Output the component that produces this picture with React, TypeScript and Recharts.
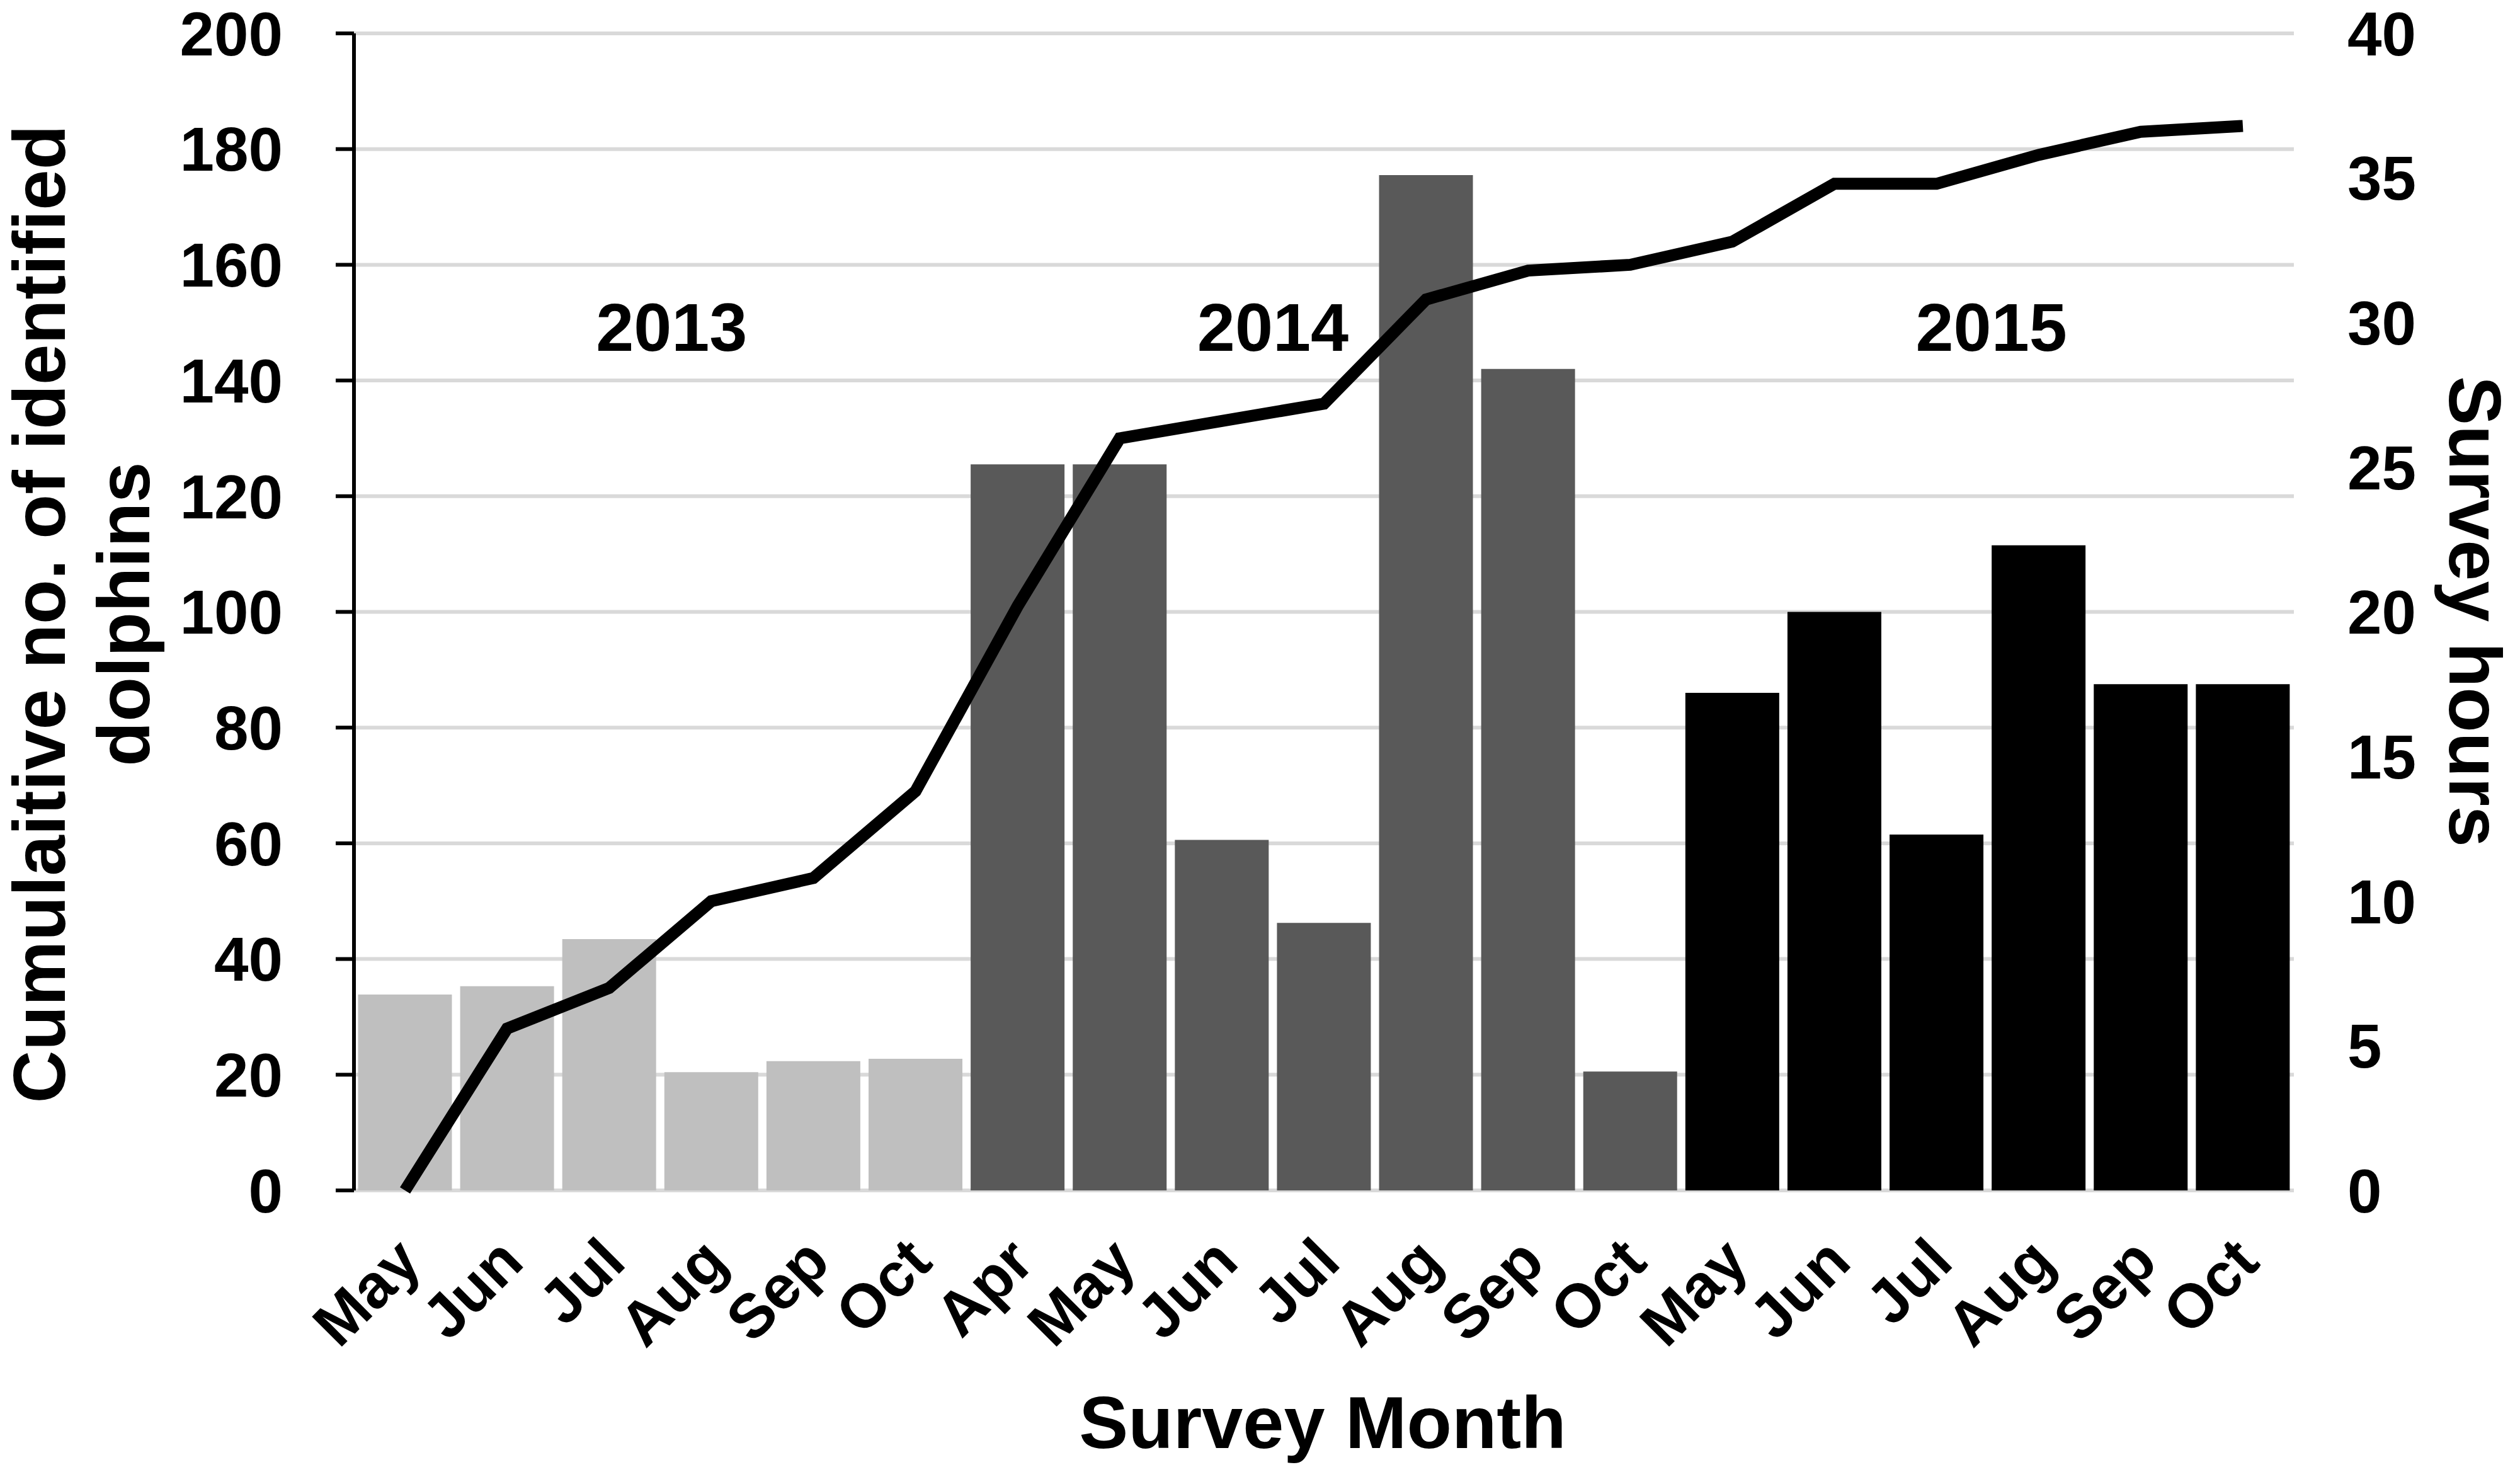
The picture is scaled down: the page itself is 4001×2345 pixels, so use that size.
import React from 'react';
import {
  ComposedChart,
  Bar,
  Line,
  XAxis,
  YAxis,
  CartesianGrid,
  Cell,
  ReferenceArea,
} from 'recharts';

// survey months, grouped by season
const months = ['May', 'Jun', 'Jul', 'Aug', 'Sep', 'Oct', 'Apr', 'May', 'Jun', 'Jul', 'Aug', 'Sep', 'Oct', 'May', 'Jun', 'Jul', 'Aug', 'Sep', 'Oct'];
const years = ['2013', '2013', '2013', '2013', '2013', '2013', '2014', '2014', '2014', '2014', '2014', '2014', '2014', '2015', '2015', '2015', '2015', '2015', '2015'];

// bars: survey hours per month (right axis)
const surveyHours = [6.77, 7.06, 8.69, 4.09, 4.47, 4.55, 25.1, 25.1, 12.12, 9.25, 35.1, 28.4, 4.11, 17.2, 20.0, 12.3, 22.3, 17.5, 17.5];
// line: cumulative no. of identified dolphins (left axis)
const cumulativeDolphins = [0, 28, 35, 50, 54, 69, 101, 130, 133, 136, 154, 159, 160, 164, 174, 174, 179, 183, 184];

const leftTicks = [0, 20, 40, 60, 80, 100, 120, 140, 160, 180, 200];
const rightTicks = [0, 5, 10, 15, 20, 25, 30, 35, 40];

// where the year captions sit (between two months, at a left-axis value)
const yearLabels = [
  { year: '2013', from: '2013-Jul', to: '2013-Aug', dx: 18 },
  { year: '2014', from: '2014-Jun', to: '2014-Jul', dx: 0 },
  { year: '2015', from: '2015-Jul', to: '2015-Aug', dx: 6 },
];
const yearLabelLevel = 149.3;

const yearColors: Record<string, string> = {
  '2013': '#bfbfbf',
  '2014': '#595959',
  '2015': '#000000',
};

const data = months.map((m, i) => ({
  key: `${years[i]}-${m}`,
  month: m,
  year: years[i],
  hours: surveyHours[i],
  cumulative: cumulativeDolphins[i],
}));

const FONT = "'Liberation Sans', Arial, Helvetica, sans-serif";

const MonthTick = ({ x, y, payload }: any) => {
  const label = String(payload.value).split('-')[1];
  const ax = x + 30;
  const ay = y + 118;
  return (
    <text
      x={ax}
      y={ay}
      transform={`rotate(-45, ${ax}, ${ay})`}
      textAnchor="end"
      fontSize={98}
      fontWeight="bold"
      fill="#000"
    >
      {label}
    </text>
  );
};

const titleStyle: React.CSSProperties = {
  position: 'absolute',
  fontFamily: FONT,
  fontWeight: 'bold',
  color: '#000',
  whiteSpace: 'nowrap',
  textAlign: 'center',
};

export default function App() {
  return (
    <div style={{ position: 'absolute', left: 0, top: 0, width: 4001, height: 2345, background: '#fff', fontFamily: FONT }}>
      <ComposedChart
        width={4001}
        height={2345}
        data={data}
        margin={{ top: 53, right: 0, bottom: 0, left: 0 }}
        barCategoryGap="4%"
      >
        <CartesianGrid yAxisId="left" vertical={false} stroke="#d9d9d9" strokeWidth={6} />
        <XAxis
          dataKey="key"
          interval={0}
          axisLine={false}
          tickLine={false}
          tickSize={0}
          tickMargin={0}
          height={455}
          tick={<MonthTick />}
        />
        <YAxis
          yAxisId="left"
          orientation="left"
          width={562}
          domain={[0, 200]}
          ticks={leftTicks}
          interval={0}
          axisLine={{ stroke: '#000', strokeWidth: 6 }}
          tickLine={{ stroke: '#000', strokeWidth: 6 }}
          tickSize={29}
          tickMargin={84}
          tick={{ fontSize: 98, fontWeight: 'bold', fill: '#000' }}
        />
        <YAxis
          yAxisId="right"
          orientation="right"
          width={359}
          domain={[0, 40]}
          ticks={rightTicks}
          interval={0}
          axisLine={false}
          tickLine={false}
          tickSize={0}
          tickMargin={85}
          tick={{ fontSize: 98, fontWeight: 'bold', fill: '#000' }}
        />
        <Bar dataKey="hours" yAxisId="right" isAnimationActive={false}>
          {data.map((d, i) => (
            <Cell key={`cell-${i}`} fill={yearColors[d.year]} />
          ))}
        </Bar>
        <Line
          dataKey="cumulative"
          yAxisId="left"
          type="linear"
          stroke="#000"
          strokeWidth={19}
          dot={false}
          activeDot={false}
          isAnimationActive={false}
        />
        {yearLabels.map((yl) => (
          <ReferenceArea
            key={yl.year}
            yAxisId="left"
            x1={yl.from}
            x2={yl.to}
            y1={yearLabelLevel - 4}
            y2={yearLabelLevel + 4}
            fill="none"
            fillOpacity={0}
            stroke="none"
            label={{ value: yl.year, position: 'center', dx: yl.dx, fontSize: 108, fontWeight: 'bold', fill: '#000' }}
          />
        ))}
      </ComposedChart>

      {/* left axis title, two lines */}
      <div
        style={{
          ...titleStyle,
          left: 130,
          top: 975,
          fontSize: 116,
          lineHeight: '134px',
          transform: 'translate(-50%, -50%) rotate(-90deg)',
        }}
      >
        Cumulaitive no. of identified
        <br />
        dolphins
      </div>

      {/* right axis title */}
      <div
        style={{
          ...titleStyle,
          left: 3929,
          top: 971,
          fontSize: 117,
          lineHeight: '117px',
          transform: 'translate(-50%, -50%) rotate(90deg)',
        }}
      >
        Survey hours
      </div>

      {/* x axis title */}
      <div
        style={{
          ...titleStyle,
          left: 2100,
          top: 2258,
          fontSize: 117,
          lineHeight: '117px',
          transform: 'translate(-50%, -50%)',
        }}
      >
        Survey Month
      </div>
    </div>
  );
}
